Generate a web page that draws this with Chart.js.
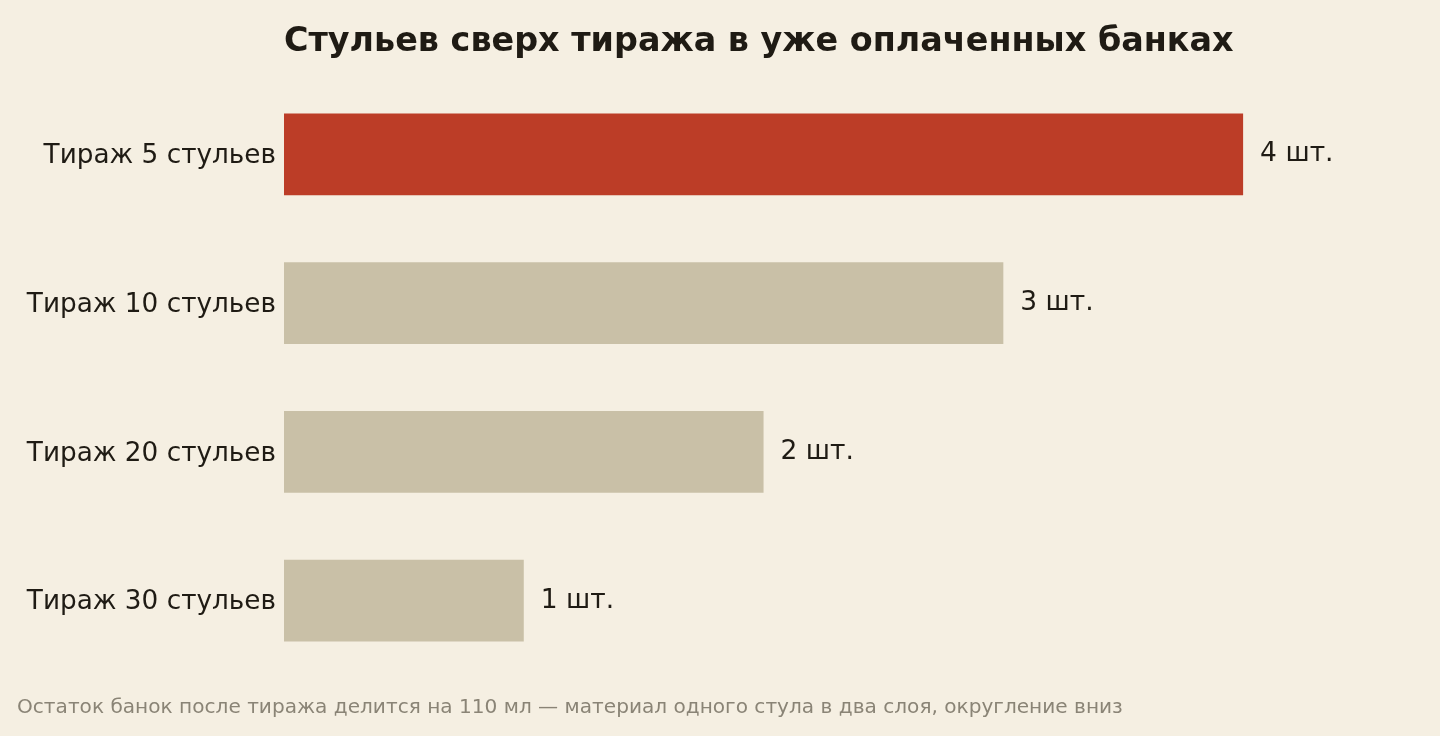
<!DOCTYPE html>
<html>
<head>
<meta charset="utf-8">
<script src="https://cdn.jsdelivr.net/npm/chart.js@4"></script>
<style>
  html, body { margin: 0; padding: 0; background: #f5efe2; }
  #wrap { width: 1440px; height: 736px; position: relative; }
</style>
</head>
<body>
<div id="wrap"><canvas id="chart"></canvas></div>
<script>
const categories = ['Тираж 5 стульев', 'Тираж 10 стульев', 'Тираж 20 стульев', 'Тираж 30 стульев'];
const chairs = [4, 3, 2, 1];
const valueLabels = ['4 шт.', '3 шт.', '2 шт.', '1 шт.'];
const barColors = ['#bc3d27', '#c9c0a7', '#c9c0a7', '#c9c0a7'];
const titleText = 'Стульев сверх тиража в уже оплаченных банках';
const footerText = 'Остаток банок после тиража делится на 110 мл — материал одного стула в два слоя, округление вниз';

const FONT = '"DejaVu Sans", sans-serif';

// title, footer and "N шт." labels
const textPlugin = {
  id: 'texts',
  afterDatasetsDraw(chart) {
    const ctx = chart.ctx;
    const meta = chart.getDatasetMeta(0);
    ctx.save();
    ctx.textBaseline = 'middle';
    ctx.fillStyle = '#1f1b14';
    ctx.font = '26.5px ' + FONT;
    meta.data.forEach((bar, i) => {
      ctx.fillText(valueLabels[i], bar.x + 17, bar.y);
    });
    ctx.font = 'bold 33.4px ' + FONT;
    ctx.fillText(titleText, chart.chartArea.left, 42);
    ctx.font = '20.1px ' + FONT;
    ctx.fillStyle = '#8a8476';
    ctx.fillText(footerText, 17, 708);
    ctx.restore();
  }
};

new Chart(document.getElementById('chart'), {
  type: 'bar',
  data: {
    labels: categories,
    datasets: [{
      data: chairs,
      backgroundColor: barColors,
      borderWidth: 0,
      categoryPercentage: 1,
      barPercentage: 0.55
    }]
  },
  options: {
    indexAxis: 'y',
    responsive: true,
    maintainAspectRatio: false,
    animation: false,
    layout: { padding: { top: 80, bottom: 61, left: 0, right: 77 } },
    plugins: { legend: { display: false }, tooltip: { enabled: false } },
    scales: {
      x: { display: false, min: 0, max: 4.5 },
      y: {
        grid: { display: false, drawTicks: false },
        border: { display: false },
        ticks: { color: '#1f1b14', font: { family: FONT, size: 26.3 }, padding: 8, labelOffset: 2 },
        afterFit(scale) { scale.width = 284; }
      }
    }
  },
  plugins: [textPlugin]
});
</script>
</body>
</html>
